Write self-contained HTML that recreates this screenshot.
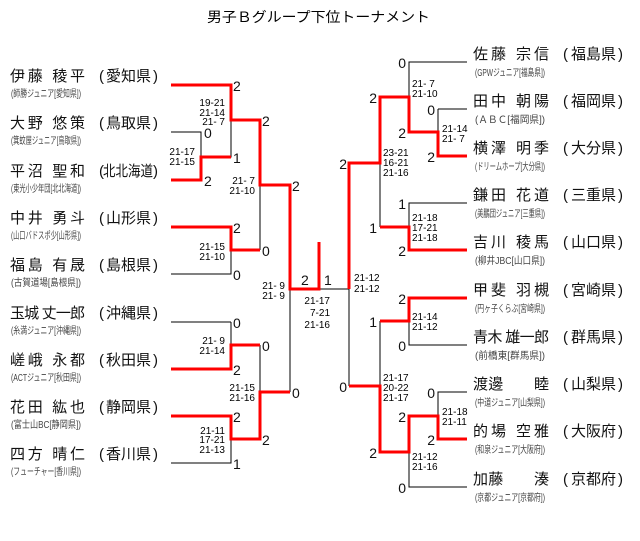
<!DOCTYPE html>
<html><head><meta charset="utf-8"><style>
html,body{margin:0;padding:0;background:#fff;}
svg{display:block;font-family:"Liberation Sans","Noto Sans CJK JP",sans-serif;}
.n{font-size:15px;fill:#111;}
.s{font-size:10px;fill:#444;}
.d{font-size:14px;fill:#111;}
.c{font-size:10px;fill:#000;}
.k{stroke:#000;stroke-width:1;fill:none;}
.r{stroke:#f00;stroke-width:3;fill:none;}
</style></head><body>
<svg width="640" height="541" viewBox="0 0 640 541">
<text x="207" y="22" font-size="14" textLength="223" lengthAdjust="spacingAndGlyphs">男子Ｂグループ下位トーナメント</text>

<!-- left names -->
<g class="n">
<text x="10" y="81" textLength="75">伊藤 稜平</text>
<text x="10" y="128" textLength="75">大野 悠策</text>
<text x="10" y="176" textLength="75">平沼 聖和</text>
<text x="10" y="223" textLength="75">中井 勇斗</text>
<text x="10" y="270" textLength="75">福島 有晟</text>
<text x="10" y="318" textLength="75">玉城 丈一郎</text>
<text x="10" y="365" textLength="75">嵯峨 永都</text>
<text x="10" y="412" textLength="75">花田 紘也</text>
<text x="10" y="459" textLength="75">四方 晴仁</text>
</g>
<g class="n">
<text x="99" y="81">(</text><text x="106" y="81">愛知県</text><text x="153" y="81">)</text>
<text x="99" y="128">(</text><text x="106" y="128">鳥取県</text><text x="153" y="128">)</text>
<text x="99" y="176">(</text><text x="103" y="176" textLength="50" lengthAdjust="spacingAndGlyphs">北北海道</text><text x="153" y="176">)</text>
<text x="99" y="223">(</text><text x="106" y="223">山形県</text><text x="153" y="223">)</text>
<text x="99" y="270">(</text><text x="106" y="270">島根県</text><text x="153" y="270">)</text>
<text x="99" y="318">(</text><text x="106" y="318">沖縄県</text><text x="153" y="318">)</text>
<text x="99" y="365">(</text><text x="106" y="365">秋田県</text><text x="153" y="365">)</text>
<text x="99" y="412">(</text><text x="106" y="412">静岡県</text><text x="153" y="412">)</text>
<text x="99" y="459">(</text><text x="106" y="459">香川県</text><text x="153" y="459">)</text>
</g>
<g class="s">
<text x="11" y="97" textLength="70" lengthAdjust="spacingAndGlyphs">(師勝ジュニア[愛知県])</text>
<text x="11" y="144" textLength="70" lengthAdjust="spacingAndGlyphs">(箕蚊屋ジュニア[鳥取県])</text>
<text x="11" y="192" textLength="70" lengthAdjust="spacingAndGlyphs">(東光小少年団[北北海道])</text>
<text x="11" y="239" textLength="70" lengthAdjust="spacingAndGlyphs">(山口バドスポ少[山形県])</text>
<text x="11" y="286" textLength="70" lengthAdjust="spacingAndGlyphs">(古賀道場[島根県])</text>
<text x="11" y="334" textLength="70" lengthAdjust="spacingAndGlyphs">(糸満ジュニア[沖縄県])</text>
<text x="11" y="381" textLength="70" lengthAdjust="spacingAndGlyphs">(ACTジュニア[秋田県])</text>
<text x="11" y="428" textLength="70" lengthAdjust="spacingAndGlyphs">(富士山BC[静岡県])</text>
<text x="11" y="475" textLength="70" lengthAdjust="spacingAndGlyphs">(フューチャー[香川県])</text>
</g>

<!-- right names -->
<g class="n">
<text x="473" y="59" textLength="76">佐藤 宗信</text>
<text x="473" y="106" textLength="76">田中 朝陽</text>
<text x="473" y="153" textLength="76">横澤 明季</text>
<text x="473" y="200" textLength="76">鎌田 花道</text>
<text x="473" y="247" textLength="76">吉川 稜馬</text>
<text x="473" y="295" textLength="76">甲斐 羽槻</text>
<text x="473" y="342" textLength="76">青木 雄一郎</text>
<text x="473" y="389" textLength="76">渡邊　　睦</text>
<text x="473" y="436" textLength="76">的場 空雅</text>
<text x="473" y="484" textLength="76">加藤　　湊</text>
</g>
<g class="n">
<text x="563" y="59">(</text><text x="571" y="59">福島県</text><text x="618" y="59">)</text>
<text x="563" y="106">(</text><text x="571" y="106">福岡県</text><text x="618" y="106">)</text>
<text x="563" y="153">(</text><text x="571" y="153">大分県</text><text x="618" y="153">)</text>
<text x="563" y="200">(</text><text x="571" y="200">三重県</text><text x="618" y="200">)</text>
<text x="563" y="247">(</text><text x="571" y="247">山口県</text><text x="618" y="247">)</text>
<text x="563" y="295">(</text><text x="571" y="295">宮崎県</text><text x="618" y="295">)</text>
<text x="563" y="342">(</text><text x="571" y="342">群馬県</text><text x="618" y="342">)</text>
<text x="563" y="389">(</text><text x="571" y="389">山梨県</text><text x="618" y="389">)</text>
<text x="563" y="436">(</text><text x="571" y="436">大阪府</text><text x="618" y="436">)</text>
<text x="563" y="484">(</text><text x="571" y="484">京都府</text><text x="618" y="484">)</text>
</g>
<g class="s">
<text x="475" y="76" textLength="70" lengthAdjust="spacingAndGlyphs">(GPWジュニア[福島県])</text>
<text x="475" y="123" textLength="70" lengthAdjust="spacingAndGlyphs">(ＡＢＣ[福岡県])</text>
<text x="475" y="170" textLength="70" lengthAdjust="spacingAndGlyphs">(ドリームホープ[大分県])</text>
<text x="475" y="217" textLength="70" lengthAdjust="spacingAndGlyphs">(美鵬団ジュニア[三重県])</text>
<text x="475" y="264" textLength="70" lengthAdjust="spacingAndGlyphs">(柳井JBC[山口県])</text>
<text x="475" y="312" textLength="70" lengthAdjust="spacingAndGlyphs">(円ヶ子くらぶ[宮崎県])</text>
<text x="475" y="359" textLength="70" lengthAdjust="spacingAndGlyphs">(前橋東[群馬県])</text>
<text x="475" y="406" textLength="70" lengthAdjust="spacingAndGlyphs">(中道ジュニア[山梨県])</text>
<text x="475" y="453" textLength="70" lengthAdjust="spacingAndGlyphs">(和泉ジュニア[大阪府])</text>
<text x="475" y="501" textLength="70" lengthAdjust="spacingAndGlyphs">(京都ジュニア[京都府])</text>
</g>

<!-- black lines left -->
<path class="k" d="M171 132H201V180 M201 157H231V85 M231 227V274H171 M260 120V250 M231 322H171 M231 322V369 M231 416V463H171 M260 345V439 M290 185V392 M290 289H349 M349 163V386"/>
<!-- black lines right -->
<path class="k" d="M467 62H409V132 M380 97V227 M438 109H467 M438 109V156 M467 203H409V250 M409 298V345H467 M380 321V452 M467 392H438V439 M409 416V487H467"/>

<!-- red left -->
<path class="r" d="M171 85H231V120H260V185H290V289H319V242"/>
<path class="r" d="M171 180H201V157H231"/>
<path class="r" d="M171 227H231V250H260"/>
<path class="r" d="M171 369H231V345H260"/>
<path class="r" d="M171 416H231V439H260V392H290"/>
<!-- red right -->
<path class="r" d="M467 156H438V132H409V97H380V163H349V289"/>
<path class="r" d="M467 250H409V227H380"/>
<path class="r" d="M467 298H409V321H380"/>
<path class="r" d="M467 439H438V416H409V452H380V386H349"/>

<!-- left digits -->
<g class="d">
<text x="233" y="91">2</text><text x="204" y="138">0</text><text x="233" y="163">1</text><text x="204" y="186">2</text>
<text x="262" y="126">2</text><text x="233" y="233">2</text><text x="262" y="256">0</text><text x="233" y="280">0</text>
<text x="292" y="191">2</text><text x="233" y="328">0</text><text x="262" y="351">0</text><text x="233" y="375">2</text>
<text x="292" y="398">0</text><text x="233" y="422">2</text><text x="262" y="445">2</text><text x="233" y="469">1</text>
<text x="301" y="285">2</text><text x="324" y="285">1</text>
</g>
<!-- right digits -->
<g class="d" text-anchor="end">
<text x="406" y="68">0</text><text x="377" y="103">2</text><text x="435" y="115">0</text><text x="406" y="138">2</text><text x="435" y="162">2</text>
<text x="347" y="169">2</text><text x="406" y="209">1</text><text x="377" y="233">1</text><text x="406" y="256">2</text>
<text x="406" y="304">2</text><text x="377" y="327">1</text><text x="406" y="351">0</text><text x="347" y="392">0</text>
<text x="435" y="398">0</text><text x="406" y="422">2</text><text x="435" y="445">2</text><text x="377" y="458">2</text><text x="406" y="493">0</text>
</g>

<!-- scores -->
<g class="c" text-anchor="end">
<text x="225" y="106">19-21</text><text x="225" y="116">21-14</text><text x="225" y="125">21- 7</text>
<text x="195" y="155">21-17</text><text x="195" y="165">21-15</text>
<text x="255" y="184">21- 7</text><text x="255" y="194">21-10</text>
<text x="225" y="250">21-15</text><text x="225" y="260">21-10</text>
<text x="285" y="289">21- 9</text><text x="285" y="299">21- 9</text>
<text x="225" y="344">21- 9</text><text x="225" y="354">21-14</text>
<text x="255" y="391">21-15</text><text x="255" y="401">21-16</text>
<text x="225" y="434">21-11</text><text x="225" y="443">17-21</text><text x="225" y="453">21-13</text>
<text x="330" y="304">21-17</text><text x="330" y="316">7-21</text><text x="330" y="328">21-16</text>
</g>
<g class="c">
<text x="354" y="281">21-12</text><text x="354" y="292">21-12</text>
<text x="412" y="87">21- 7</text><text x="412" y="97">21-10</text>
<text x="442" y="132">21-14</text><text x="442" y="142">21- 7</text>
<text x="383" y="156">23-21</text><text x="383" y="166">16-21</text><text x="383" y="176">21-16</text>
<text x="412" y="221">21-18</text><text x="412" y="231">17-21</text><text x="412" y="241">21-18</text>
<text x="412" y="320">21-14</text><text x="412" y="330">21-12</text>
<text x="383" y="381">21-17</text><text x="383" y="391">20-22</text><text x="383" y="401">21-17</text>
<text x="442" y="415">21-18</text><text x="442" y="425">21-11</text>
<text x="412" y="460">21-12</text><text x="412" y="470">21-16</text>
</g>
</svg>
</body></html>
